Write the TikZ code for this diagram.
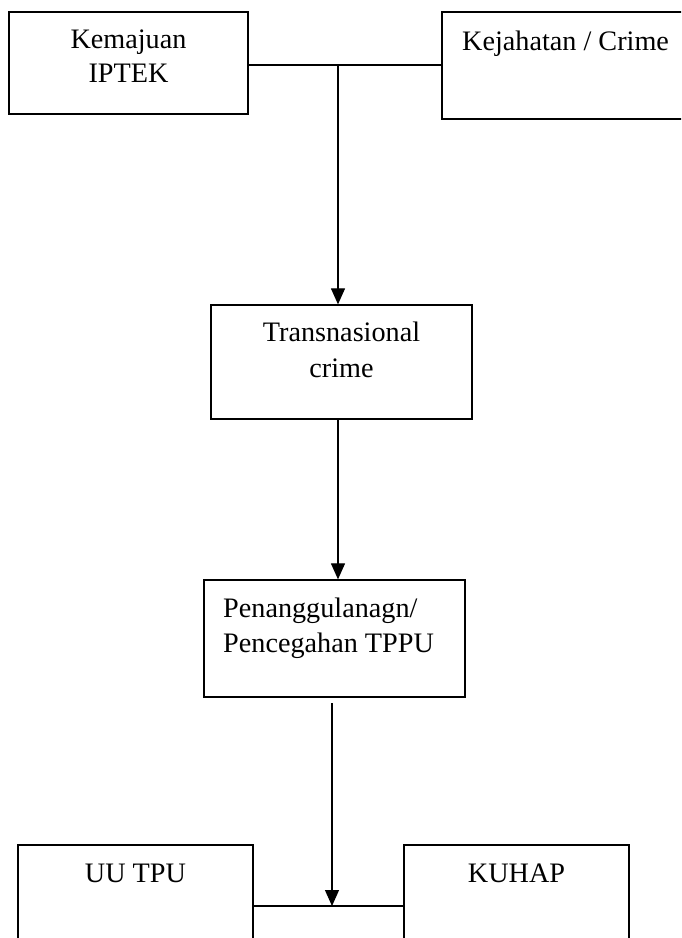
\documentclass[tikz,border=0pt]{standalone}
\usepackage{fontspec}
\setmainfont{Liberation Serif}
\usetikzlibrary{arrows.meta}
\begin{document}
\begin{tikzpicture}[x=1pt,y=-1pt,
  boxst/.style={draw,line width=1.3pt,rectangle,inner sep=0pt},
  txt/.style={inner sep=0pt,font=\fontsize{28.2}{34}\selectfont},
  conn/.style={line width=1.2pt},
  arr/.style={line width=1.2pt,-{Triangle[length=16pt,width=14pt]}}]
\useasboundingbox (0,0) rectangle (681,938);
\fill[white] (0,0) rectangle (681,938);
\clip (0,0) rectangle (681,938);
% boxes
\node[boxst,minimum width=239pt,minimum height=102pt] (b1) at (128.5,63) {};
\node[boxst,minimum width=260pt,minimum height=107pt] (b2) at (572,65.5) {};
\node[boxst,minimum width=261pt,minimum height=114pt] (b3) at (341.5,362) {};
\node[boxst,minimum width=261pt,minimum height=117pt] (b4) at (334.5,638.5) {};
\node[boxst,minimum width=235pt,minimum height=130pt] (b5) at (135.5,910) {};
\node[boxst,minimum width=225pt,minimum height=130pt] (b6) at (516.5,910) {};
% texts
\node[txt,anchor=base] (t1a) at (128.5,48) {Kemajuan};
\node[txt,anchor=base] (t1b) at (128.5,82) {IPTEK};
\node[txt,anchor=base west] (t2) at (462,50) {Kejahatan / Crime};
\node[txt,anchor=base] (t3a) at (341.5,341) {Transnasional};
\node[txt,anchor=base] (t3b) at (341.5,377) {crime};
\node[txt,anchor=base west] (t4a) at (223,617) {Penanggulanagn/};
\node[txt,anchor=base west] (t4b) at (223,652) {Pencegahan TPPU};
\node[txt,anchor=base] (t5) at (135.5,882) {UU TPU};
\node[txt,anchor=base] (t6) at (516.5,882) {KUHAP};
% connectors
\coordinate (j1) at (338,65);
\coordinate (s3) at (332,703);
\coordinate (j2) at (332,906);
\draw[conn] (b1.east |- j1) -- (b2.west |- j1);
\draw[arr] (j1) -- (j1 |- b3.north);
\draw[arr] (b3.south -| j1) -- (b4.north -| j1);
\draw[conn] (b5.east |- j2) -- (b6.west |- j2);
\draw[arr] (s3) -- (j2);
\end{tikzpicture}
\end{document}
